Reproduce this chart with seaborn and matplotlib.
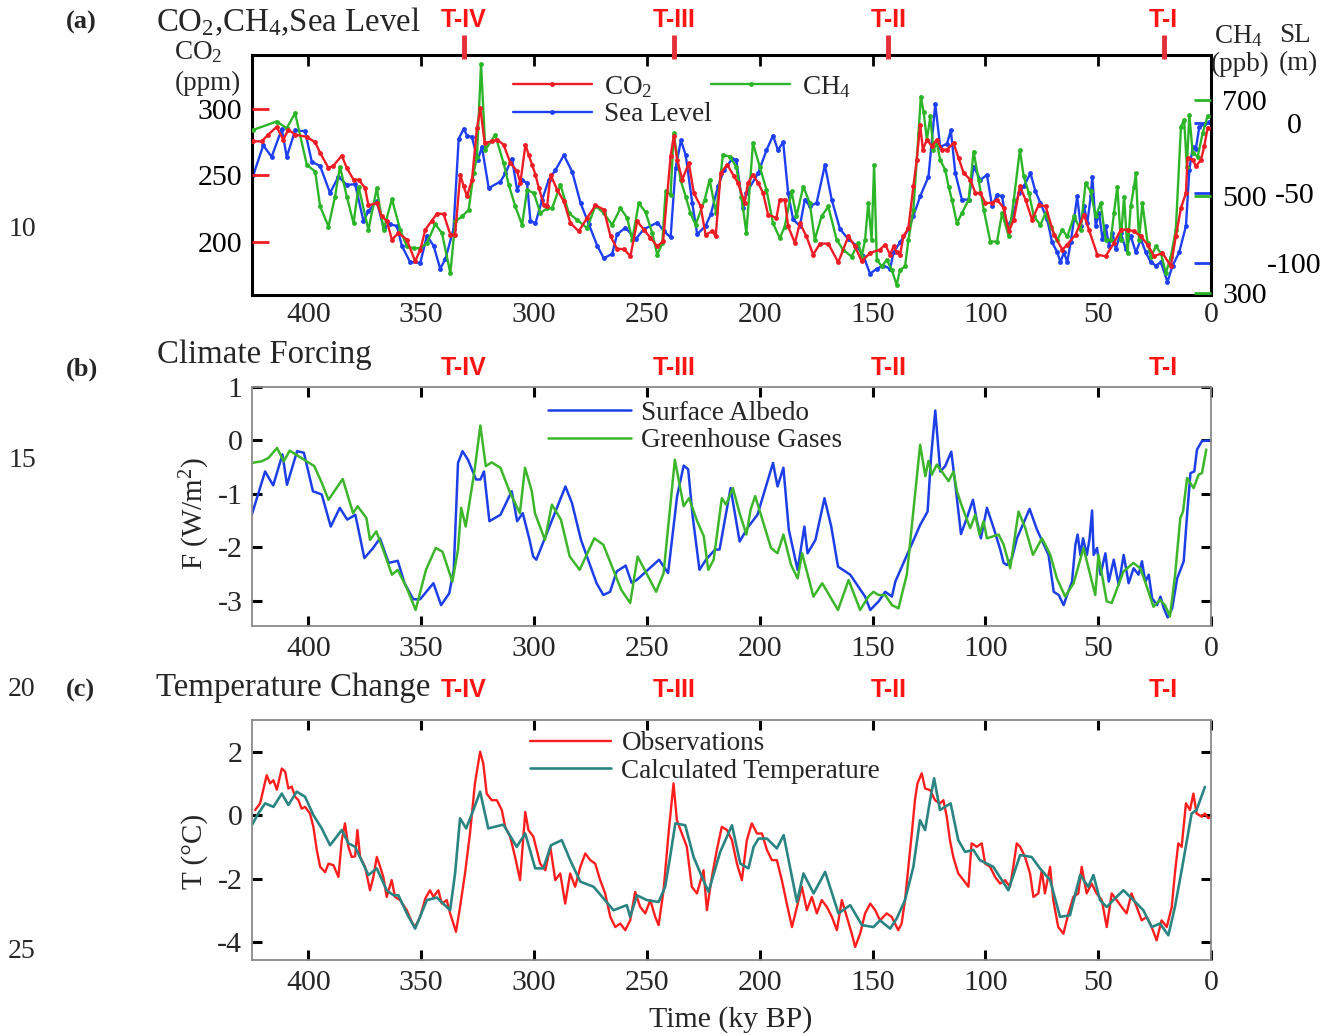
import seaborn as sns
import matplotlib.pyplot as plt
from matplotlib.transforms import blended_transform_factory

# ---------------- data (age in ky BP) ----------------
co2_age = [424.4, 420.7, 417.8, 414.1, 411.1, 408.9, 405.9, 400.7, 397.0, 394.8, 391.1, 388.9, 385.2, 383.0,
           380.0, 377.8, 374.9, 373.4, 369.7, 367.5, 365.2, 363.0, 360.1, 356.4, 352.7, 350.4, 348.2, 345.3,
           343.0, 340.1, 337.1, 335.0, 332.7, 331.2, 329.7, 327.5, 325.3, 323.8, 321.9, 318.6, 316.4, 313.5,
           310.5, 307.5, 306.1, 303.8, 302.4, 300.9, 299.4, 297.9, 295.7, 294.2, 292.7, 289.8, 286.8, 283.9,
           280.2, 276.5, 272.8, 269.1, 266.1, 263.2, 260.2, 257.3, 254.3, 251.3, 248.4, 245.4, 242.8, 239.5,
           238.1, 236.6, 234.3, 231.4, 229.2, 226.2, 224.0, 221.0, 219.5, 217.3, 214.4, 211.4, 209.6, 206.7,
           205.2, 203.0, 200.7, 198.5, 196.3, 192.6, 191.1, 188.9, 187.4, 184.4, 182.2, 179.3, 176.3, 173.3,
           169.6, 165.2, 160.7, 157.8, 154.8, 151.1, 146.7, 144.4, 142.2, 140.7, 139.3, 137.8, 136.3, 134.1,
           131.9, 130.4, 128.9, 127.7, 125.9, 123.7, 121.5, 119.3, 117.0, 114.1, 111.9, 109.6, 106.7, 104.4,
           102.2, 100.0, 97.0, 94.8, 91.9, 89.6, 87.4, 84.7, 82.2, 79.3, 76.3, 73.3, 69.6, 65.9, 63.7, 60.0,
           56.3, 54.1, 50.4, 46.7, 43.0, 40.0, 37.0, 34.1, 31.1, 28.1, 25.2, 21.5, 17.8, 15.6, 13.3, 11.1,
           10.4, 8.1, 6.7, 4.4, 3.0, 1.5]
co2_ppm = [275.4, 275.4, 280.5, 286.2, 276.7, 284.2, 280.5, 278.7, 274.7, 266.7, 255.4, 257.1, 264.7, 255.4,
           246.6, 246.6, 240.4, 227.3, 229.1, 219.1, 215.3, 201.5, 206.5, 201.5, 185.2, 194.0, 209.0, 215.8,
           221.1, 220.8, 205.3, 205.3, 250.4, 241.6, 234.1, 246.6, 285.5, 300.5, 274.2, 275.4, 276.7, 272.9,
           259.2, 252.9, 244.1, 272.9, 265.4, 257.9, 250.4, 240.4, 227.8, 226.6, 250.4, 239.1, 230.3, 214.0,
           207.8, 217.8, 227.3, 224.1, 204.0, 194.5, 194.5, 189.0, 215.3, 209.0, 202.8, 196.5, 200.3, 264.2,
           279.2, 261.7, 246.6, 259.2, 236.6, 226.6, 205.3, 207.8, 204.0, 251.6, 257.9, 249.1, 244.1, 229.1,
           244.1, 250.4, 244.1, 236.6, 220.3, 217.8, 231.6, 231.6, 211.5, 199.0, 214.0, 204.0, 190.2, 198.5,
           198.5, 184.5, 204.0, 196.5, 185.2, 191.5, 194.0, 197.8, 190.2, 196.5, 192.0, 190.2, 204.0, 210.2,
           241.6, 261.7, 288.0, 269.2, 276.7, 271.7, 276.7, 269.2, 269.2, 274.2, 262.9, 251.6, 246.6, 236.6,
           236.6, 229.1, 229.1, 231.6, 225.3, 207.8, 216.5, 241.6, 231.6, 216.5, 227.8, 226.6, 205.3, 194.0,
           197.8, 205.3, 220.3, 209.0, 190.2, 189.0, 199.0, 209.0, 209.0, 207.8, 204.0, 197.8, 189.0, 191.5,
           181.5, 204.0, 225.3, 236.6, 262.9, 261.7, 256.6, 261.7, 271.7, 285.5]

sl_age = [424.4, 420.0, 416.3, 411.8, 409.6, 405.9, 401.5, 398.5, 394.8, 390.4, 386.7, 383.0, 379.3, 375.6,
          373.4, 369.7, 366.7, 363.8, 360.8, 358.6, 354.9, 350.4, 347.5, 344.5, 341.6, 339.3, 335.7, 333.4,
          331.2, 329.7, 327.5, 325.0, 323.1, 320.1, 314.9, 312.7, 309.8, 307.5, 305.3, 303.1, 301.6, 299.4,
          296.4, 293.5, 290.5, 286.8, 283.1, 279.4, 275.7, 272.0, 269.1, 265.4, 263.2, 259.5, 255.0, 251.3,
          245.4, 242.5, 239.5, 237.3, 234.9, 232.8, 229.9, 227.7, 224.0, 221.7, 218.5, 215.8, 212.1, 210.4,
          207.4, 205.9, 200.7, 197.0, 194.1, 191.9, 189.6, 187.4, 185.2, 182.2, 180.0, 177.8, 174.8, 171.1,
          168.1, 164.4, 160.7, 157.0, 154.1, 151.1, 148.1, 145.2, 142.2, 140.7, 137.8, 134.1, 131.9, 128.9,
          125.2, 122.2, 120.0, 117.0, 115.3, 113.3, 110.4, 107.4, 105.2, 102.2, 99.3, 97.0, 94.8, 92.6, 90.4,
          88.1, 85.2, 83.0, 80.0, 77.8, 75.6, 72.6, 70.4, 68.1, 66.7, 65.2, 63.7, 62.2, 60.7, 59.3, 57.8,
          56.3, 54.8, 53.3, 52.6, 51.1, 49.6, 48.1, 46.7, 45.2, 43.7, 42.2, 40.0, 37.8, 35.6, 33.3, 31.1,
          28.9, 26.7, 24.4, 22.2, 19.3, 17.0, 14.1, 11.1, 9.6, 8.1, 6.7, 5.2, 3.0, 0.7]
sl_m = [-37.3, -16.2, -24.4, -4.5, -24.4, -5.6, -6.1, -27.9, -31.0, -50.2, -38.5, -44.4, -43.9, -70.2,
        -63.1, -56.1, -74.9, -72.5, -73.7, -87.8, -99.5, -100.0, -80.7, -87.8, -104.2, -97.2, -76.0, -11.5,
        -4.5, -9.2, -10.3, -26.8, -17.4, -46.7, -42.0, -36.1, -25.6, -47.9, -40.8, -43.2, -70.2, -71.8,
        -54.9, -40.8, -33.8, -23.2, -35.0, -57.3, -72.5, -87.8, -96.7, -93.6, -79.6, -74.9, -83.1, -76.0,
        -71.3, -77.2, -81.9, -32.6, -12.7, -23.2, -57.3, -79.6, -73.7, -65.5, -45.5, -33.8, -25.6, -26.8,
        -60.8, -50.2, -36.1, -19.7, -9.2, -19.7, -13.8, -50.2, -69.0, -73.7, -54.9, -59.6, -57.3, -30.3,
        -54.9, -76.0, -83.1, -87.8, -94.8, -107.7, -104.2, -101.9, -104.2, -92.5, -85.4, -76.0, -66.7, -52.6,
        -38.5, 13.1, -17.4, -15.0, -5.6, -36.1, -54.9, -54.9, -31.4, -40.8, -37.3, -59.6, -51.4, -52.6, -73.7,
        -69.0, -50.2, -45.5, -36.1, -49.1, -57.3, -69.0, -85.4, -92.5, -99.5, -92.5, -99.5, -85.4, -69.0, -52.6, -73.7,
        -59.6, -71.3, -52.6, -38.5, -73.7, -64.3, -83.1, -73.7, -87.8, -78.4, -90.1, -78.4, -90.1, -80.7, -92.5, -83.1,
        -92.5, -99.5, -101.9, -99.5, -113.6, -101.9, -92.5, -73.7, -33.8, -17.4, -18.5, -3.3, -0.9, 0.2]

ch4_age = [424.4, 414.1, 409.6, 405.9, 400.7, 397.0, 394.8, 391.1, 388.2, 386.0, 383.0, 380.0, 377.8, 373.4,
           369.7, 366.7, 363.0, 359.3, 356.4, 353.4, 350.4, 347.5, 343.8, 340.8, 337.1, 334.9, 332.0, 329.0,
           326.8, 325.3, 323.5, 321.6, 317.2, 313.5, 311.2, 308.3, 305.3, 303.1, 300.1, 297.2, 294.2, 292.0,
           288.3, 284.6, 280.9, 276.5, 272.8, 269.1, 265.4, 261.7, 258.7, 256.5, 253.6, 250.6, 247.6, 245.4,
           243.2, 241.7, 239.5, 238.1, 235.1, 232.8, 230.7, 228.4, 224.4, 222.2, 219.3, 216.3, 213.3, 210.4,
           208.1, 205.9, 203.0, 200.0, 197.0, 194.1, 191.1, 188.9, 185.9, 183.7, 180.7, 177.8, 175.6, 172.6,
           169.6, 165.9, 163.0, 159.3, 156.3, 154.8, 153.3, 151.9, 150.4, 149.3, 148.1, 145.9, 143.7, 141.5,
           139.3, 137.8, 135.6, 134.1, 131.9, 129.6, 128.6, 127.4, 125.9, 124.4, 123.0, 121.5, 120.0, 117.8,
           116.3, 114.8, 112.6, 110.4, 107.4, 105.2, 103.0, 100.7, 97.8, 94.8, 92.6, 89.6, 87.4, 84.7, 83.0,
           80.7, 78.5, 75.6, 73.3, 71.1, 68.1, 65.9, 63.7, 60.7, 57.8, 55.6, 53.3, 51.1, 48.9, 46.7, 44.4,
           43.0, 41.5, 40.0, 38.5, 37.0, 35.6, 34.1, 33.3, 31.9, 30.4, 28.1, 26.7, 24.4, 22.2, 20.0, 17.8,
           15.6, 13.3, 11.9, 10.7, 9.6, 8.1, 5.9, 3.7, 1.5]
ch4_ppb = [637.8, 655.1, 641.3, 672.4, 565.3, 551.4, 478.9, 437.4, 499.6, 561.8, 499.6, 444.3, 520.3, 430.5,
           516.9, 430.5, 494.0, 430.5, 396.0, 392.5, 392.5, 402.9, 442.3, 423.6, 340.7, 447.8, 458.2, 471.9,
           548.0, 582.5, 774.6, 596.4, 627.4, 568.7, 523.8, 478.9, 440.9, 513.4, 506.5, 465.1, 475.4, 475.4,
           523.8, 465.1, 451.3, 434.0, 480.3, 465.1, 440.9, 475.4, 454.7, 409.8, 485.8, 467.1, 423.6, 378.7,
           402.9, 510.0, 503.1, 630.9, 534.2, 499.6, 465.1, 440.9, 492.7, 534.2, 465.1, 586.0, 582.5, 561.8,
           499.6, 423.6, 610.2, 561.8, 513.4, 444.3, 413.2, 437.4, 510.0, 458.2, 520.3, 485.8, 409.8, 458.2,
           478.9, 409.8, 389.0, 375.2, 402.9, 375.2, 409.8, 485.8, 409.8, 565.3, 368.3, 354.5, 368.3, 347.6,
           316.5, 347.6, 354.5, 409.8, 471.9, 630.9, 706.9, 675.8, 617.1, 665.5, 596.4, 610.2, 575.6, 554.9,
           520.3, 492.7, 444.3, 465.1, 492.7, 592.9, 534.2, 471.9, 406.3, 406.3, 465.1, 416.7, 492.7, 596.4, 541.1,
           506.5, 458.2, 440.9, 465.1, 437.4, 409.8, 430.5, 416.7, 458.2, 430.5, 527.3, 510.0, 458.2, 485.8, 409.8, 409.8,
           465.1, 520.3, 409.8, 499.6, 382.1, 478.9, 520.3, 548.0, 409.8, 485.8, 402.9, 375.2, 396.0, 382.1, 340.7, 375.2,
           430.5, 644.7, 658.5, 561.8, 668.9, 589.4, 582.5, 630.9, 666.8]

sa_age = [425.1, 419.2, 415.6, 411.5, 409.5, 405.0, 402.0, 398.0, 394.1, 390.1, 386.1, 382.8, 379.2, 375.2,
          371.3, 368.3, 364.4, 360.4, 357.4, 353.5, 350.5, 344.6, 341.2, 337.6, 335.6, 333.7, 331.7, 329.3,
          325.7, 323.8, 322.2, 319.8, 314.9, 309.9, 307.5, 305.0, 302.0, 300.4, 299.0, 286.1, 283.2, 279.2,
          272.3, 269.3, 266.3, 263.4, 259.4, 256.8, 254.5, 244.6, 240.6, 236.6, 233.7, 231.7, 229.7, 226.7,
          223.8, 219.8, 217.8, 212.9, 208.9, 205.0, 201.0, 194.1, 192.1, 189.5, 187.1, 183.2, 180.2, 178.8,
          175.3, 171.3, 168.3, 165.3, 159.9, 153.3, 151.0, 147.3, 144.4, 141.4, 139.9, 128.9, 125.6, 124.1,
          122.2, 120.0, 117.8, 115.1, 113.3, 110.8, 108.2, 105.5, 103.7, 102.0, 99.3, 96.3, 93.4, 91.9, 90.4,
          88.2, 86.0, 80.4, 77.1, 72.0, 69.7, 67.5, 65.3, 63.8, 61.6, 60.1, 59.1, 57.9, 56.7, 55.0, 53.8,
          52.7, 52.0, 50.5, 49.0, 46.8, 45.3, 43.1, 40.9, 38.7, 36.5, 34.3, 32.1, 30.6, 29.1, 27.6, 26.1,
          23.9, 22.4, 20.9, 19.2, 17.2, 15.0, 12.1, 10.6, 9.1, 7.4, 6.2, 4.0, 0.0]
sa_wm2 = [-1.39, -0.58, -0.84, -0.26, -0.83, -0.20, -0.23, -0.95, -1.01, -1.61, -1.26, -1.48, -1.39, -2.20,
          -2.01, -1.83, -2.29, -2.25, -2.67, -2.97, -2.97, -2.67, -3.08, -2.86, -2.42, -0.42, -0.20, -0.36,
          -0.73, -0.73, -0.58, -1.51, -1.39, -0.95, -1.51, -1.36, -1.86, -2.17, -2.23, -0.86, -1.17, -1.86,
          -2.67, -2.89, -2.83, -2.45, -2.34, -2.66, -2.61, -2.23, -2.48, -1.04, -0.47, -0.54, -1.42, -2.42,
          -2.23, -2.04, -2.04, -0.89, -1.89, -1.61, -1.39, -0.42, -0.86, -0.51, -1.67, -2.42, -1.61, -2.11,
          -1.86, -1.08, -1.61, -2.36, -2.51, -2.92, -3.17, -3.01, -2.83, -2.92, -2.64, -1.58, -1.33, -0.33,
          0.56, -0.58, -0.48, -0.21, -0.83, -1.75, -1.45, -1.11, -1.51, -1.83, -1.26, -1.64, -2.04, -2.29, -2.33,
          -2.20, -1.83, -1.28, -1.67, -2.14, -2.83, -2.89, -3.08, -2.89, -2.64, -1.95, -1.76, -2.14, -1.83, -2.14, -1.83,
          -1.31, -2.14, -2.01, -2.51, -2.11, -2.64, -2.23, -2.70, -2.14, -2.67, -2.39, -2.51, -2.26, -2.64, -2.51, -2.95,
          -3.08, -2.92, -3.14, -3.31, -3.14, -2.58, -2.26, -1.39, -0.61, -0.58, -0.17, -0.01, 0.00]

ghg_age = [425.1, 420.8, 417.8, 413.9, 410.9, 408.3, 403.0, 397.4, 394.1, 391.1, 384.8, 380.2, 378.2, 374.3,
           372.7, 369.9, 366.3, 363.0, 360.4, 356.4, 352.5, 347.9, 343.6, 340.6, 336.2, 333.7, 332.3, 330.3,
           326.3, 323.8, 321.4, 318.8, 314.9, 310.9, 306.3, 304.0, 301.0, 299.6, 295.2, 292.1, 288.1, 284.2,
           279.8, 273.3, 269.3, 261.4, 257.4, 254.1, 245.9, 242.6, 237.6, 233.7, 231.3, 227.7, 224.8, 222.8,
           220.4, 216.8, 214.9, 211.9, 208.9, 205.9, 204.0, 202.0, 195.0, 192.1, 189.5, 186.1, 183.2, 181.2,
           176.2, 172.3, 165.3, 160.6, 155.5, 151.8, 149.6, 147.3, 144.4, 141.4, 138.5, 136.3, 134.8, 128.9,
           126.6, 125.2, 123.7, 121.5, 119.3, 116.3, 114.1, 112.6, 110.4, 106.7, 104.5, 102.6, 100.8, 99.3,
           94.1, 91.9, 89.0, 85.3, 82.3, 78.9, 74.9, 71.2, 68.3, 64.6, 60.9, 56.5, 51.3, 49.9, 46.2, 44.0,
           38.8, 34.4, 31.4, 29.2, 25.5, 22.6, 20.4, 18.2, 15.9, 13.6, 12.4, 10.6, 7.7, 5.5, 4.0, 2.1]
ghg_wm2 = [-0.42, -0.39, -0.33, -0.14, -0.39, -0.19, -0.33, -0.48, -0.79, -1.11, -0.72, -1.36, -1.23, -1.45,
           -1.86, -1.70, -2.11, -2.51, -2.42, -2.76, -3.17, -2.42, -2.01, -2.08, -2.64, -2.04, -1.26, -1.61,
           -0.54, 0.28, -0.48, -0.41, -0.51, -0.95, -1.36, -0.51, -0.95, -1.36, -1.86, -1.20, -1.48, -2.17,
           -2.42, -1.83, -1.95, -2.79, -3.04, -2.17, -2.83, -2.48, -0.36, -1.23, -1.08, -1.51, -1.79, -2.42,
           -2.23, -1.08, -1.20, -0.89, -1.36, -1.76, -1.29, -1.04, -2.01, -2.11, -1.76, -2.33, -2.58, -2.11,
           -2.92, -2.67, -3.17, -2.61, -3.17, -2.92, -2.83, -2.89, -2.89, -3.08, -3.14, -2.76, -2.51, -0.08,
           -0.67, -0.38, -0.64, -0.45, -0.58, -0.76, -0.58, -0.95, -1.23, -1.64, -1.39, -1.76, -1.51, -1.83,
           -1.76, -1.95, -2.39, -1.33, -1.64, -2.14, -1.83, -2.14, -2.58, -2.92, -2.67, -2.01, -2.89, -2.14, -3.01, -3.04,
           -2.45, -2.29, -2.39, -2.64, -3.11, -2.98, -3.08, -3.29, -2.51, -1.45, -1.33, -0.70, -0.89, -0.64, -0.61, -0.17]

obs_age = [423.6, 421.4, 418.5, 417.0, 415.5, 414.0, 411.8, 410.3, 408.9, 407.4, 405.9, 404.4, 403.0, 401.5,
           399.3, 397.8, 396.3, 394.8, 392.6, 391.1, 388.9, 386.7, 385.2, 383.8, 382.3, 380.8, 379.3, 378.3,
           377.1, 374.9, 372.7, 371.2, 369.7, 368.2, 366.8, 365.3, 363.1, 361.6, 359.4, 356.4, 354.2, 352.7,
           350.5, 348.2, 346.1, 344.6, 342.4, 340.9, 338.7, 337.2, 334.6, 332.8, 330.6, 328.4, 326.2, 323.9,
           322.5, 321.0, 318.8, 316.5, 314.3, 312.8, 310.6, 308.4, 306.2, 303.9, 302.5, 300.3, 297.3, 295.0,
           292.8, 290.6, 288.4, 286.2, 284.0, 281.8, 279.5, 277.3, 275.1, 272.9, 270.7, 268.5, 266.2, 264.0,
           261.8, 259.6, 257.4, 255.2, 253.0, 250.7, 248.5, 246.3, 244.8, 242.6, 240.4, 238.2, 236.7, 234.5,
           232.3, 230.1, 227.8, 224.9, 223.4, 221.2, 219.0, 216.8, 214.5, 212.3, 210.1, 207.9, 205.7, 203.5,
           201.2, 199.0, 196.8, 194.6, 192.4, 190.2, 188.0, 185.7, 183.5, 181.3, 179.1, 176.9, 174.7, 172.5,
           170.2, 168.0, 165.8, 163.6, 161.4, 159.2, 157.7, 155.5, 153.3, 151.0, 148.8, 146.7, 143.7, 141.5,
           138.6, 137.1, 135.6, 134.1, 132.6, 131.2, 130.1, 128.2, 126.7, 124.5, 122.3, 120.1, 118.6, 117.1,
           115.7, 114.2, 112.0, 109.7, 107.5, 106.1, 103.8, 101.6, 100.1, 97.9, 95.7, 93.5, 91.3, 89.1, 87.6,
           86.1, 84.6, 82.4, 80.2, 78.7, 76.5, 75.0, 73.6, 71.3, 69.9, 67.7, 65.4, 63.2, 61.0, 58.8, 57.3,
           55.1, 52.9, 50.7, 48.4, 46.2, 44.0, 41.8, 39.6, 37.4, 35.2, 32.9, 30.7, 28.5, 26.3, 24.1, 21.9,
           19.6, 17.4, 16.0, 14.5, 13.0, 11.1, 9.3, 7.8, 6.4, 4.1, 2.7, 1.2, 0.0]
obs_degc = [0.16, 0.37, 1.26, 1.00, 1.10, 0.80, 1.47, 1.37, 0.84, 0.90, 0.58, 0.47, 0.20, 0.26,
            0.05, -0.37, -1.10, -1.63, -1.80, -1.53, -1.58, -1.95, -0.79, -0.26, -1.00, -1.32, -1.30, -0.47,
            -1.32, -1.63, -2.37, -1.95, -1.32, -1.63, -1.95, -2.58, -2.05, -2.58, -2.68, -3.00, -3.37, -3.53,
            -3.21, -2.63, -2.37, -2.58, -2.37, -2.79, -2.68, -3.10, -3.68, -2.90, -1.84, -0.58, 1.00, 2.00,
            1.63, 0.68, 0.47, 0.47, 0.16, -0.37, -0.68, -1.32, -2.05, 0.10, -0.47, -0.68, -1.53, -1.74,
            -1.00, -2.05, -1.84, -2.79, -1.84, -2.26, -1.63, -1.21, -1.42, -1.53, -2.05, -2.47, -3.21, -3.53,
            -3.42, -3.63, -3.32, -2.42, -2.89, -3.10, -2.68, -3.21, -3.47, -2.37, -0.58, 1.00, -0.16, -0.58,
            -1.00, -2.26, -2.47, -1.74, -3.00, -1.95, -1.10, -0.37, -0.47, -0.79, -1.53, -2.05, -0.79, -0.26,
            -0.58, -0.58, -1.10, -1.42, -1.42, -2.05, -2.79, -3.53, -2.90, -2.26, -3.00, -2.58, -3.10, -2.68,
            -2.90, -3.21, -3.63, -2.68, -3.21, -3.74, -4.16, -3.74, -3.10, -2.79, -3.00, -3.32, -3.10, -3.21,
            -3.63, -3.42, -2.68, -1.63, -0.58, 0.47, 1.00, 1.32, 0.84, 0.79, 0.47, 0.37, 0.47, -0.05,
            -0.79, -1.32, -1.84, -2.05, -2.26, -0.89, -1.00, -0.89, -1.53, -1.63, -1.95, -2.16, -2.05, -2.26, -1.63,
            -0.89, -1.00, -1.32, -1.84, -2.58, -2.47, -1.74, -2.47, -1.63, -2.68, -3.53, -3.74, -3.10, -2.58, -2.47, -1.63,
            -2.47, -2.16, -2.47, -2.68, -3.53, -2.47, -2.68, -2.90, -3.10, -2.47, -2.90, -3.32, -3.21, -3.53, -3.95, -3.32,
            -3.53, -2.90, -1.84, -0.89, -1.00, 0.37, 0.16, 0.68, 0.05, -0.05, 0.05, -0.10, -0.05]

calc_age = [425.1, 422.2, 419.2, 415.5, 411.8, 408.9, 405.2, 401.5, 397.8, 394.1, 390.4, 385.2, 382.3, 379.3,
            373.4, 369.7, 365.3, 362.3, 360.1, 356.4, 352.7, 347.5, 343.1, 337.2, 335.0, 332.8, 330.1, 326.9,
            323.9, 320.3, 313.6, 307.7, 303.9, 299.5, 295.9, 292.5, 287.7, 284.0, 279.5, 273.6, 264.8, 258.9,
            257.4, 254.4, 250.0, 244.8, 241.9, 239.7, 237.4, 233.0, 229.3, 225.6, 222.7, 217.5, 212.3, 208.6,
            205.0, 202.7, 200.5, 196.8, 192.4, 189.4, 183.5, 180.6, 176.1, 171.0, 165.1, 159.9, 154.7, 149.6,
            146.7, 142.2, 139.3, 135.6, 131.9, 129.0, 126.7, 124.5, 122.7, 120.1, 117.9, 115.4, 112.0, 109.0,
            105.3, 102.4, 96.5, 89.8, 84.6, 79.5, 75.8, 71.3, 66.9, 62.5, 58.0, 54.4, 52.1, 49.2, 46.2, 43.3,
            38.8, 34.4, 30.0, 26.3, 22.6, 18.9, 16.0, 13.0, 8.6, 6.4, 2.7]
calc_degc = [-0.32, 0.05, 0.37, 0.26, 0.68, 0.32, 0.74, 0.58, 0.00, -0.42, -0.95, -0.47, -0.89, -1.00,
             -1.89, -1.68, -2.37, -2.53, -2.53, -3.10, -3.58, -2.68, -2.60, -3.00, -1.84, -0.10, -0.42, 0.16,
             0.74, -0.42, -0.30, -1.00, -0.58, -1.68, -1.68, -0.95, -0.79, -1.42, -2.10, -2.26, -3.00, -2.84,
             -3.21, -2.53, -2.68, -2.74, -2.26, -1.32, -0.26, -0.32, -1.32, -1.95, -2.42, -1.16, -0.32, -1.53,
             -1.68, -1.00, -0.74, -0.74, -1.05, -0.63, -2.74, -1.84, -2.47, -1.79, -3.10, -2.84, -3.47, -3.53,
             -3.32, -3.58, -3.26, -2.68, -1.63, -0.16, -0.47, 0.47, 1.16, 0.16, 0.26, 0.37, -0.79, -1.16,
             -1.10, -1.42, -1.63, -2.37, -1.26, -1.32, -1.68, -2.05, -3.21, -3.16, -1.89, -2.26, -1.89, -2.68, -2.90, -2.68,
             -2.37, -2.68, -3.00, -3.53, -3.42, -3.79, -2.90, -1.74, 0.05, 0.16, 0.89]

term_ages = [331, 238, 143, 21]
term_labels = ["T-IV", "T-III", "T-II", "T-I"]
age_ticks = [400, 350, 300, 250, 200, 150, 100, 50, 0]

# ---------------- style ----------------
sns.set_theme(style="white")
plt.rcParams['font.family'] = ['Liberation Serif', 'DejaVu Serif']
plt.rcParams['mathtext.fontset'] = 'custom'
plt.rcParams['mathtext.rm'] = 'Liberation Serif'
plt.rcParams['mathtext.it'] = 'Liberation Serif:italic'
plt.rcParams['mathtext.bf'] = 'Liberation Serif:bold'
plt.rcParams['axes.unicode_minus'] = False

RED, GREEN, BLUE = '#ee1c24', '#2db52a', '#1f40f0'
TICK_FS, LEG_FS, TITLE_FS = 21.5, 19.5, 23.7

W, H = 1325, 1036
fig = plt.figure(figsize=(W / 100, H / 100), dpi=100)


def fx(px):
    return px / W


def fy(py):
    return 1 - py / H


def draw(ax, x, y, color, lw, marker=None):
    kw = dict(marker=marker, markersize=3.5, markeredgewidth=0, markerfacecolor=color) if marker else {}
    sns.lineplot(x=x, y=y, ax=ax, color=color, lw=lw, sort=False, estimator=None, legend=False, **kw)
    return ax.lines[-1]


def term_text(ax, ypix):
    tr = blended_transform_factory(ax.transData, fig.transFigure)
    for a, lab in zip(term_ages, term_labels):
        ax.text(a, fy(ypix), lab, transform=tr, ha='center', va='center', color='#ff1414',
                fontsize=18, fontweight='bold', family='Liberation Sans')


# ---------------- panel (a) ----------------
ax_sl = fig.add_axes([fx(252), fy(295), fx(1211) - fx(252), fy(55) - fy(295)])
ax_ch4 = ax_sl.twinx()
ax_co2 = ax_sl.twinx()

h_sl = draw(ax_sl, sl_age, sl_m, BLUE, 1.7, 'o')
h_ch4 = draw(ax_ch4, ch4_age, ch4_ppb, GREEN, 1.7, 'o')
h_co2 = draw(ax_co2, co2_age, co2_ppm, RED, 1.7, 'o')

ax_sl.set_xlim(425, 0)
ax_sl.set_ylim(-122.9, 48.2)
ax_ch4.set_ylim(295.4, 793)
ax_co2.set_ylim(159.9, 340.3)
for a in (ax_sl, ax_ch4, ax_co2):
    a.set_xlabel('')
    a.set_ylabel('')

ax_sl.set_xticks(age_ticks)
ax_sl.tick_params(axis='x', top=True, bottom=False, labelbottom=True, direction='in', length=8,
                  width=2, color='black', labelsize=TICK_FS, pad=5)
ax_sl.yaxis.tick_right()
ax_sl.set_yticks([-100, -50, 0])
ax_sl.tick_params(axis='y', right=True, left=False, labelright=True, labelleft=False, direction='in',
                  length=12, width=2, color=BLUE, labelcolor='black', labelsize=TICK_FS, pad=60)
for t in ax_sl.yaxis.get_major_ticks():
    t.label2.set_horizontalalignment('center')

ax_ch4.set_yticks([300, 500, 700])
ax_ch4.tick_params(axis='y', right=True, direction='in', length=12, width=2, color=GREEN,
                   labelcolor='black', labelsize=TICK_FS, pad=8)

ax_co2.yaxis.tick_left()
ax_co2.set_yticks([200, 250, 300])
ax_co2.tick_params(axis='y', left=True, right=False, labelleft=True, labelright=False, direction='in',
                   length=12, width=2, color=RED, labelcolor='black', labelsize=TICK_FS, pad=7)

for s in ax_sl.spines.values():
    s.set_color('black')
    s.set_linewidth(2.2)
for a in (ax_ch4, ax_co2):
    for s in a.spines.values():
        s.set_visible(False)

ax_co2.legend([h_co2, h_sl, h_ch4], ['CO$_2$', 'Sea Level', 'CH$_4$'], ncol=2, frameon=False,
              fontsize=LEG_FS, loc='upper left', bbox_to_anchor=(0.258, 0.977), borderpad=0,
              handlelength=2.9, handletextpad=0.45, columnspacing=0.0, labelspacing=0.08)

for a in term_ages:
    ax_co2.axvline(a, ymin=0.985, ymax=1.085, color='#e3303a', lw=3.5, clip_on=False, solid_capstyle='butt')
term_text(ax_co2, 20)

# ---------------- panels (b) and (c) ----------------
ax_b = fig.add_axes([fx(252), fy(626), fx(1211) - fx(252), fy(387) - fy(626)])
ax_c = fig.add_axes([fx(252), fy(960), fx(1211) - fx(252), fy(720) - fy(960)])

h_sa = draw(ax_b, sa_age, sa_wm2, '#1d3fe6', 1.8)
h_ghg = draw(ax_b, ghg_age, ghg_wm2, '#3db62c', 1.8)
h_obs = draw(ax_c, obs_age, obs_degc, '#ff1e1e', 1.7)
h_calc = draw(ax_c, calc_age, calc_degc, '#2a8582', 1.9)

ax_b.set_ylim(-3.47, 1)
ax_b.set_yticks([-3, -2, -1, 0, 1])
ax_c.set_ylim(-4.57, 3.0)
ax_c.set_yticks([-4, -2, 0, 2])

for a in (ax_b, ax_c):
    a.set_xlim(425, 0)
    a.set_xticks(age_ticks)
    a.set_xlabel('')
    a.set_ylabel('')
    a.tick_params(axis='both', which='major', direction='in', top=True, bottom=True, left=True, right=True,
                  length=7, width=2.2, color='black', labelsize=TICK_FS, pad=7)
    for s in a.spines.values():
        s.set_color('#8a8a8a')
        s.set_linewidth(1.3)

ax_b.legend([h_sa, h_ghg], ['Surface Albedo', 'Greenhouse Gases'], frameon=False, fontsize=LEG_FS,
            loc='upper left', bbox_to_anchor=(0.295, 1.0), borderpad=0, handlelength=3.05,
            handletextpad=0.37, labelspacing=0.1)
ax_c.legend([h_obs, h_calc], ['Observations', 'Calculated Temperature'], frameon=False, fontsize=LEG_FS,
            loc='upper left', bbox_to_anchor=(0.276, 1.01), borderpad=0, handlelength=3.0,
            handletextpad=0.37, labelspacing=0.1)

term_text(ax_b, 368)
term_text(ax_c, 690)

# ---------------- texts around the panels ----------------
fig.text(fx(81), fy(22), '(a)', fontsize=19, fontweight='bold', ha='center', va='center')
fig.text(fx(82), fy(369), '(b)', fontsize=19, fontweight='bold', ha='center', va='center')
fig.text(fx(80), fy(690), '(c)', fontsize=19, fontweight='bold', ha='center', va='center')

fig.text(fx(156), fy(22), 'CO$_2$,CH$_4$,Sea Level', fontsize=TITLE_FS, ha='left', va='center')
fig.text(fx(157), fy(355), 'Climate Forcing', fontsize=TITLE_FS, ha='left', va='center')
fig.text(fx(156), fy(688), 'Temperature Change', fontsize=TITLE_FS, ha='left', va='center')

fig.text(fx(198), fy(52), 'CO$_2$', fontsize=LEG_FS, ha='center', va='center')
fig.text(fx(208), fy(83), '(ppm)', fontsize=LEG_FS, ha='center', va='center')
fig.text(fx(1239), fy(36), 'CH$_4$', fontsize=LEG_FS, ha='center', va='center')
fig.text(fx(1240), fy(64), '(ppb)', fontsize=LEG_FS, ha='center', va='center')
fig.text(fx(1295), fy(36), 'SL', fontsize=LEG_FS, ha='center', va='center')
fig.text(fx(1298), fy(64), '(m)', fontsize=LEG_FS, ha='center', va='center')

fig.text(fx(195), fy(513), 'F (W/m$^2$)', fontsize=21, rotation=90, ha='center', va='center')
fig.text(fx(195), fy(851), 'T (\u00b0C)', fontsize=21, rotation=90, ha='center', va='center')
fig.text(fx(731), fy(1020), 'Time (ky BP)', fontsize=21.5, ha='center', va='center')

for num, ypix in zip(['10', '15', '20', '25'], [229, 461, 690, 951]):
    fig.text(fx(22), fy(ypix), num, fontsize=20, ha='center', va='center')

fig.savefig('out.png', dpi=100)
